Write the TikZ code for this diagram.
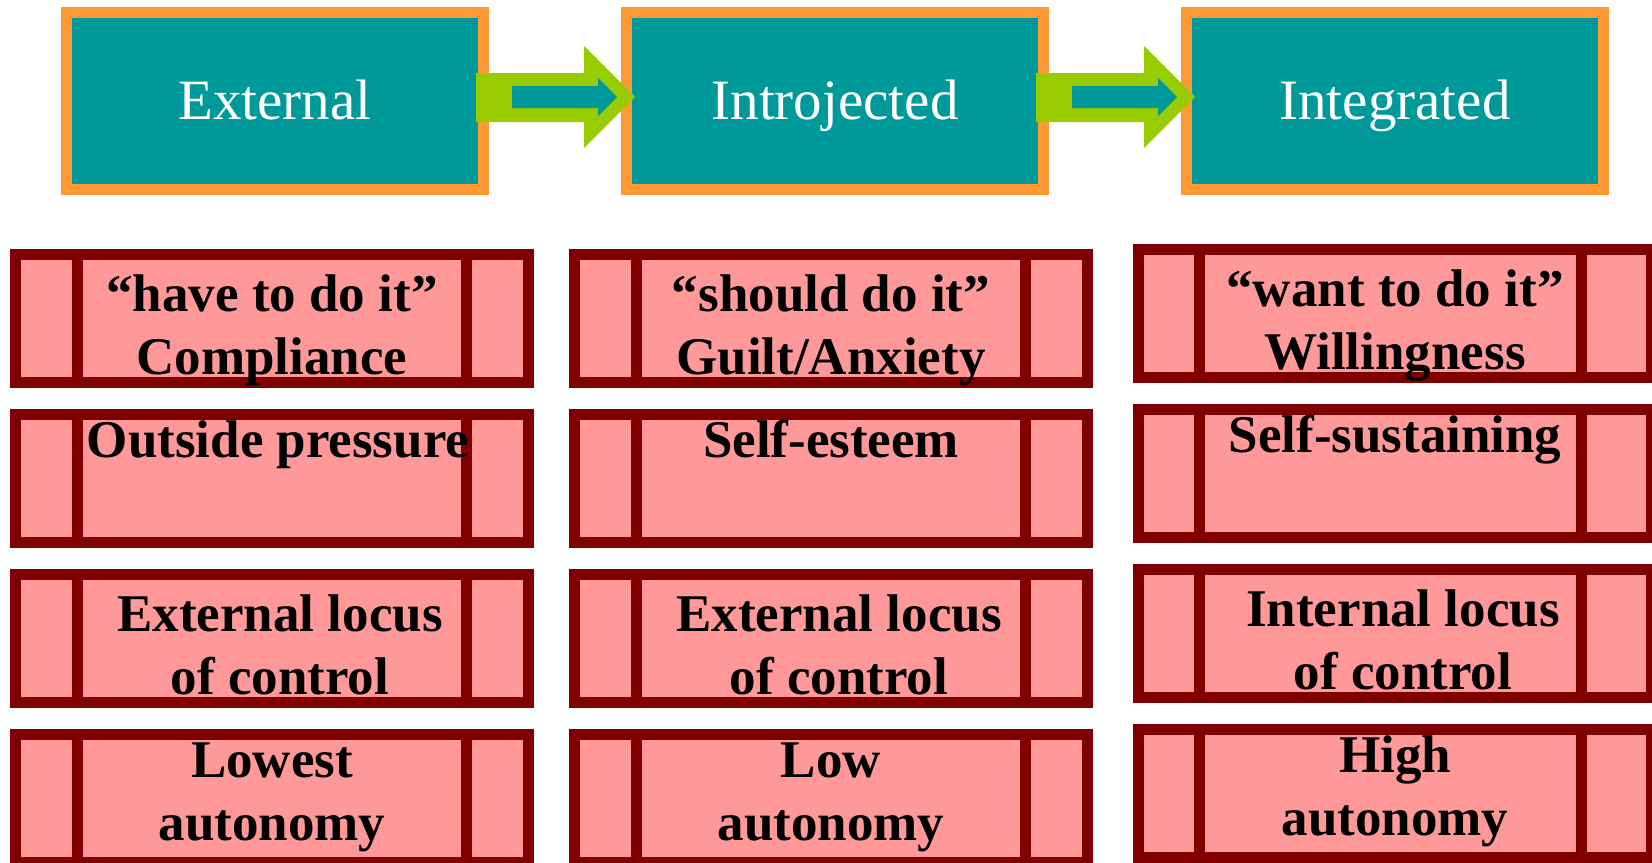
\documentclass[tikz,border=0pt]{standalone}
\usepackage{fontspec}
\setmainfont{Liberation Serif}
\usetikzlibrary{positioning,calc}
\definecolor{tealbox}{HTML}{009999}
\definecolor{orangeedge}{HTML}{FF9933}
\definecolor{arrowgreen}{HTML}{99CC00}
\definecolor{darkmaroon}{HTML}{800000}
\definecolor{pinkfill}{HTML}{FF9999}

\begin{document}
\begin{tikzpicture}[
    x=0.5pt,y=-0.5pt,
    stage/.style={draw=orangeedge,fill=tealbox,line width=5.5pt,inner sep=0pt,outer sep=0pt,
      minimum width=208.5pt,minimum height=88.5pt,text height=18.5pt,text depth=0pt,
      text=white,font=\fontsize{28.5}{34}\selectfont},
    cell/.style={draw=darkmaroon,fill=pinkfill,line width=5.5pt,inner sep=0pt,outer sep=0pt,
      minimum width=256.5pt,minimum height=64pt},
    divider/.style={draw=darkmaroon,line width=5.5pt},
    celltext/.style={anchor=base,align=center,inner sep=0pt,font=\bfseries\fontsize{26.5}{31.5}\selectfont},
    flow/.style={fill=arrowgreen},
    flowcore/.style={fill=tealbox}
  ]
    \useasboundingbox (0,0) rectangle (1652,862);

    % Stages
    \node[stage] (ext)   at (275,101)  {External};
    \node[stage] (intro) at (835,101)  {Introjected};
    \node[stage] (integ) at (1395,101) {Integrated};

    % Block arrows between stages
    \foreach \from in {ext,intro} {
      \fill[flow] ($(\from.east)+(-7.5,-28)$) -- ++(108,0) -- ++(0,-27) -- ++(51,51)
        -- ++(-51,51) -- ++(0,-26) -- ++(-108,0) -- cycle;
      \fill[flowcore] ($(\from.east)+(28.5,-15)$) -- ++(86,0) -- ++(0,-8) -- ++(19,19)
        -- ++(-19,19) -- ++(0,-8) -- ++(-86,0) -- cycle;
    }

    % External column
    \node[cell] (ex1) at (272,318.5) {};
    \node[cell] (ex2) at (272,478.5) {};
    \node[cell] (ex3) at (272,638.5) {};
    \node[cell] (ex4) at (272,798.5) {};

    % Introjected column
    \node[cell] (in1) at (831,318.5) {};
    \node[cell] (in2) at (831,478.5) {};
    \node[cell] (in3) at (831,638.5) {};
    \node[cell] (in4) at (831,798.5) {};

    % Integrated column
    \node[cell] (ig1) at (1395,313.5) {};
    \node[cell] (ig2) at (1395,473.5) {};
    \node[cell] (ig3) at (1395,633.5) {};
    \node[cell] (ig4) at (1395,793.5) {};

    % Side panels
    \foreach \n in {ex1,ex2,ex3,ex4,in1,in2,in3,in4} {
      \draw[divider] ([xshift=-97.25pt]\n.north) -- ([xshift=-97.25pt]\n.south);
      \draw[divider] ([xshift=97.25pt]\n.north) -- ([xshift=97.25pt]\n.south);
    }
    \foreach \n in {ig1,ig2,ig3,ig4} {
      \draw[divider] ([xshift=-97.75pt]\n.north) -- ([xshift=-97.75pt]\n.south);
      \draw[divider] ([xshift=93.25pt]\n.north) -- ([xshift=93.25pt]\n.south);
    }

    % Texts (base is the last line)
    \node[celltext] (ex1t) at ([yshift=-59.75pt]ex1.north) {“have to do it”\\Compliance};
    \node[celltext] (ex2t) at ([xshift=3pt,yshift=-21.5pt]ex2.north) {Outside pressure};
    \node[celltext] (ex3t) at ([xshift=4pt,yshift=-59.75pt]ex3.north) {External locus\\of control};
    \node[celltext] (ex4t) at ([yshift=-53pt]ex4.north) {Lowest\\autonomy};

    \node[celltext] (in1t) at ([yshift=-59.75pt]in1.north) {“should do it”\\Guilt/Anxiety};
    \node[celltext] (in2t) at ([yshift=-21.5pt]in2.north) {Self-esteem};
    \node[celltext] (in3t) at ([xshift=4pt,yshift=-59.75pt]in3.north) {External locus\\of control};
    \node[celltext] (in4t) at ([yshift=-53pt]in4.north) {Low\\autonomy};

    \node[celltext] (ig1t) at ([yshift=-59.75pt]ig1.north) {“want to do it”\\Willingness};
    \node[celltext] (ig2t) at ([yshift=-21.5pt]ig2.north) {Self-sustaining};
    \node[celltext] (ig3t) at ([xshift=4pt,yshift=-59.75pt]ig3.north) {Internal locus\\of control};
    \node[celltext] (ig4t) at ([yshift=-53pt]ig4.north) {High\\autonomy};
  \end{tikzpicture}
\end{document}
